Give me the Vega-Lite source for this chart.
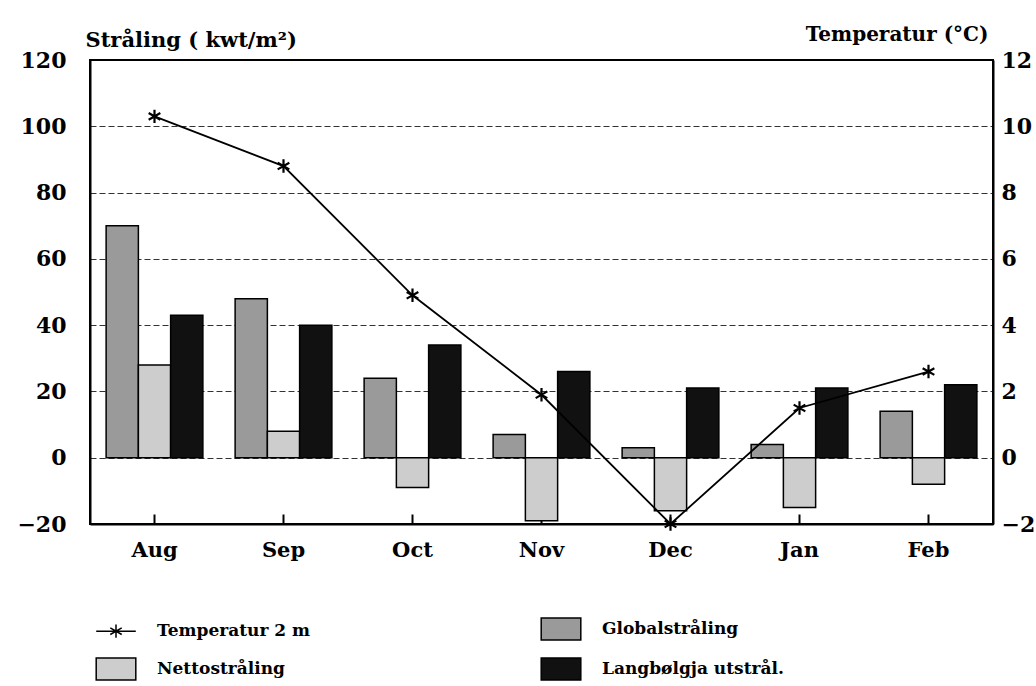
{
  "$schema": "https://vega.github.io/schema/vega-lite/v6.json",
  "width": 903,
  "height": 464,
  "autosize": {"type": "none"},
  "padding": {"left": 90, "top": 60, "right": 43, "bottom": 162},
  "background": "white",
  "config": {
    "view": {"stroke": "black", "strokeWidth": 2},
    "axis": {"domainColor": "black", "domainWidth": 2, "tickColor": "black", "tickWidth": 2, "labelColor": "black", "titleColor": "black"}
  },
  "datasets": {
    "bars": [
      {"month": "Aug", "series": "Globalstråling", "value": 70},
      {"month": "Aug", "series": "Nettostråling", "value": 28},
      {"month": "Aug", "series": "Langbølgja utstrål.", "value": 43},
      {"month": "Sep", "series": "Globalstråling", "value": 48},
      {"month": "Sep", "series": "Nettostråling", "value": 8},
      {"month": "Sep", "series": "Langbølgja utstrål.", "value": 40},
      {"month": "Oct", "series": "Globalstråling", "value": 24},
      {"month": "Oct", "series": "Nettostråling", "value": -9},
      {"month": "Oct", "series": "Langbølgja utstrål.", "value": 34},
      {"month": "Nov", "series": "Globalstråling", "value": 7},
      {"month": "Nov", "series": "Nettostråling", "value": -19},
      {"month": "Nov", "series": "Langbølgja utstrål.", "value": 26},
      {"month": "Dec", "series": "Globalstråling", "value": 3},
      {"month": "Dec", "series": "Nettostråling", "value": -16},
      {"month": "Dec", "series": "Langbølgja utstrål.", "value": 21},
      {"month": "Jan", "series": "Globalstråling", "value": 4},
      {"month": "Jan", "series": "Nettostråling", "value": -15},
      {"month": "Jan", "series": "Langbølgja utstrål.", "value": 21},
      {"month": "Feb", "series": "Globalstråling", "value": 14},
      {"month": "Feb", "series": "Nettostråling", "value": -8},
      {"month": "Feb", "series": "Langbølgja utstrål.", "value": 22}
    ],
    "temp": [
      {"month": "Aug", "temp": 10.3},
      {"month": "Sep", "temp": 8.8},
      {"month": "Oct", "temp": 4.9},
      {"month": "Nov", "temp": 1.9},
      {"month": "Dec", "temp": -2.0},
      {"month": "Jan", "temp": 1.5},
      {"month": "Feb", "temp": 2.6}
    ]
  },
  "layer": [
    {
      "layer": [
        {
          "data": {"name": "bars"},
          "mark": {"type": "bar", "stroke": "black", "strokeWidth": 1.5},
          "encoding": {
            "x": {
              "field": "month", "type": "nominal", "title": null,
              "sort": ["Aug", "Sep", "Oct", "Nov", "Dec", "Jan", "Feb"],
              "scale": {"paddingInner": 0.25, "paddingOuter": 0.125},
              "axis": {"labelAngle": 0, "tickSize": -10, "labelPadding": 25, "labelFont": "DejaVu Serif", "labelFontWeight": "bold", "labelFontSize": 21}
            },
            "xOffset": {
              "field": "series", "type": "nominal",
              "sort": ["Globalstråling", "Nettostråling", "Langbølgja utstrål."],
              "scale": {"paddingInner": 0, "paddingOuter": 0}
            },
            "y": {
              "field": "value", "type": "quantitative",
              "scale": {"domain": [-20, 120], "nice": false, "zero": false},
              "axis": {
                "values": [-20, 0, 20, 40, 60, 80, 100, 120],
                "grid": true, "gridDash": [6, 3], "gridColor": "black", "gridWidth": 1, "gridOpacity": 0.8,
                "tickSize": 0, "labelPadding": 24,
                "labelFont": "DejaVu Serif", "labelFontWeight": "bold", "labelFontSize": 22,
                "title": "Stråling ( kwt/m²)", "titleAngle": 0, "titleAlign": "left", "titleBaseline": "alphabetic",
                "titleX": -5, "titleY": -14, "titleFont": "DejaVu Serif", "titleFontSize": 21, "titleFontWeight": "bold"
              }
            },
            "fill": {
              "field": "series", "type": "nominal",
              "scale": {
                "domain": ["Temperatur 2 m", "Globalstråling", "Nettostråling", "Langbølgja utstrål."],
                "range": ["white", "#9a9a9a", "#cdcdcd", "#111111"]
              },
              "legend": {
                "orient": "none", "legendX": 14, "legendY": 557, "direction": "horizontal", "columns": 2,
                "title": null, "labelFont": "DejaVu Serif", "labelFontWeight": "bold", "labelFontSize": 17,
                "labelColor": "black", "labelLimit": 400, "symbolSize": 484, "symbolStrokeColor": "black", "symbolStrokeWidth": 1.5,
                "labelOffset": 29, "rowPadding": 12, "columnPadding": 228,
                "encode": {"symbols": {"update": {"shape": {"signal": "datum.value === 'Temperatur 2 m' ? 'M-1.8,0H1.8M0,-0.6V0.6M-0.52,-0.3L0.52,0.3M-0.52,0.3L0.52,-0.3' : 'M-1.8,-1H1.8V1H-1.8Z'"}}}}
              }
            }
          }
        },
        {
          "mark": {"type": "rule", "color": "black", "strokeWidth": 2},
          "encoding": {"y": {"datum": 0, "type": "quantitative"}}
        }
      ]
    },
    {
      "data": {"name": "temp"},
      "layer": [
        {"mark": {"type": "line", "color": "black", "strokeWidth": 1.8}},
        {"mark": {"type": "point", "shape": "M0,-1V1M-0.87,-0.5L0.87,0.5M-0.87,0.5L0.87,-0.5", "filled": false, "stroke": "black", "strokeWidth": 2.2, "size": 180, "opacity": 1}}
      ],
      "encoding": {
        "x": {"field": "month", "type": "nominal", "title": null, "sort": ["Aug", "Sep", "Oct", "Nov", "Dec", "Jan", "Feb"]},
        "y": {
          "field": "temp", "type": "quantitative",
          "scale": {"domain": [-2, 12], "nice": false, "zero": false},
          "axis": {
            "orient": "right", "values": [-2, 0, 2, 4, 6, 8, 10, 12], "grid": false, "tickSize": 0, "labelPadding": 8,
            "labelFont": "DejaVu Serif", "labelFontWeight": "bold", "labelFontSize": 22,
            "title": "Temperatur (°C)", "titleAngle": 0, "titleAlign": "right", "titleBaseline": "alphabetic",
            "titleX": -5, "titleY": -20, "titleFont": "DejaVu Serif", "titleFontSize": 20, "titleFontWeight": "bold"
          }
        }
      }
    }
  ],
  "resolve": {"scale": {"y": "independent"}}
}
